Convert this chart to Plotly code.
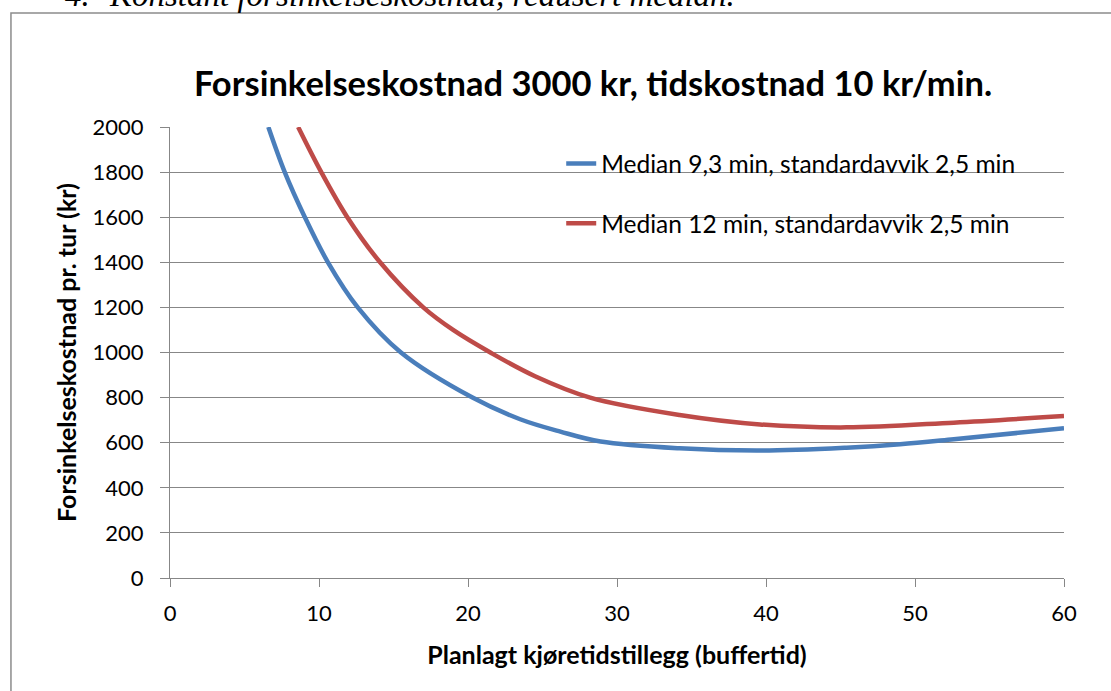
import plotly.graph_objects as go

# buffer time (minutes) and cost per trip (kr)
blue_x = [6.6, 7.7, 9.05, 10.6, 12.6, 15.5, 20.3, 23.5, 26.2, 28.9, 34.2, 39.6,
          45.4, 49.0, 52.6, 60.0]
blue_y = [2000, 1800, 1600, 1400, 1200, 1000, 800, 704, 649, 605, 575, 565,
          578, 593, 615, 664]

red_x = [8.6, 10.15, 11.9, 14.1, 17.0, 19.0, 21.5, 24.5, 28.2, 34.2, 39.6, 45.4,
         52.6, 60.0]
red_y = [2000, 1800, 1600, 1400, 1200, 1100, 1000, 895, 800, 723, 681, 668,
         689, 718]

series_names = [
    "Median 9,3 min, standardavvik 2,5 min",
    "Median 12 min, standardavvik 2,5 min",
]

x_ticks = [0, 10, 20, 30, 40, 50, 60]
y_ticks = [0, 200, 400, 600, 800, 1000, 1200, 1400, 1600, 1800, 2000]

BLUE = "#4A7EBB"
RED = "#BE4B48"
GRID = "#878787"
FONT = "Lato, Carlito, Calibri, sans-serif"

fig = go.Figure()
for i, (xs, ys, color) in enumerate([(blue_x, blue_y, BLUE), (red_x, red_y, RED)]):
    fig.add_trace(go.Scatter(
        x=xs, y=ys, mode="lines", name=series_names[i],
        line=dict(color=color, width=4.5, shape="spline", smoothing=1.0),
        legendgroup=f"g{i}",
    ))

fig.update_layout(
    width=1111,
    height=691,
    margin=dict(l=170, r=47, t=127, b=113),
    paper_bgcolor="white",
    plot_bgcolor="white",
    font=dict(family=FONT, color="black", size=22),
    title=dict(
        text="<b>Forsinkelseskostnad 3000 kr, tidskostnad 10 kr/min.</b>",
        font=dict(size=34.5, family=FONT, color="black"),
        x=593 / 1111, xref="container", xanchor="center",
        y=1 - 83.5 / 691, yref="container", yanchor="middle",
    ),
    xaxis=dict(
        range=[0, 60], tickvals=x_ticks, showgrid=False, zeroline=False,
        showline=True, linecolor=GRID, linewidth=1,
        ticks="outside", ticklen=8, tickcolor=GRID, ticklabelstandoff=8,
        tickfont=dict(size=22),
        title=dict(text="<b>Planlagt kjøretidstillegg (buffertid)</b>",
                   font=dict(size=25), standoff=21),
    ),
    yaxis=dict(
        range=[0, 2000], tickvals=y_ticks, showgrid=True, gridcolor=GRID,
        gridwidth=1, zeroline=False, showline=True, linecolor=GRID, linewidth=1,
        ticks="outside", ticklen=9, tickcolor=GRID, ticklabelstandoff=12,
        tickfont=dict(size=22),
        title=dict(text="<b>Forsinkelseskostnad pr. tur (kr)</b>",
                   font=dict(size=25), standoff=8),
    ),
    showlegend=True,
    legend=dict(
        x=0.4376, y=0.969, xanchor="left", yanchor="top",
        bgcolor="rgba(0,0,0,0)", font=dict(size=24.5),
        tracegroupgap=25, itemwidth=30,
    ),
)

# outer chart frame (cut off at the right and bottom in the source)
fig.add_shape(type="rect", xref="paper", yref="paper",
              x0=-0.1779, x1=1.2, y0=-0.4, y1=1.2528,
              line=dict(color="#8C8C8C", width=1.5), layer="below")

# caption above the chart, partly cut off at the top
fig.add_annotation(text="<i>4.</i>", xref="paper", yref="paper",
                   x=(63 - 170) / 894, y=1.293, xanchor="left", yanchor="middle",
                   showarrow=False, font=dict(family="Liberation Serif", size=33))
fig.add_annotation(text="<i>Konstant forsinkelseskostnad, redusert median.</i>",
                   xref="paper", yref="paper",
                   x=(107 - 170) / 894, y=1.293, xanchor="left", yanchor="middle",
                   showarrow=False, font=dict(family="Liberation Serif", size=33))

# drop the browser's default page margin so the figure sits at the top-left corner
fig.write_html("out.html", config={"displayModeBar": False},
               post_script="document.body.style.margin = '0';")
